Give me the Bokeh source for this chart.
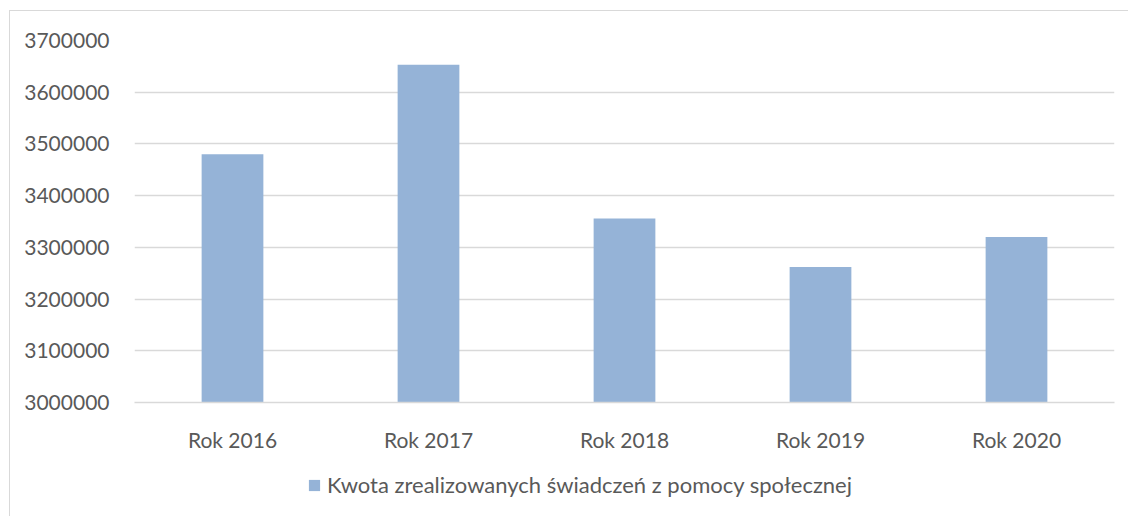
from bokeh.plotting import figure
from bokeh.layouts import column
from bokeh.models import ColumnDataSource, FixedTicker, NumeralTickFormatter, Legend, LegendItem, Range1d
from bokeh.embed import file_html
from bokeh.resources import INLINE

categories = ["Rok 2016", "Rok 2017", "Rok 2018", "Rok 2019", "Rok 2020"]
values = [3480000, 3653000, 3356000, 3262000, 3320000]
y_ticks = [3000000, 3100000, 3200000, 3300000, 3400000, 3500000, 3600000, 3700000]
series_name = "Kwota zrealizowanych świadczeń z pomocy społecznej"

TEXT = "#595959"
GRID = "#D9D9D9"
BAR = "#95B3D7"
FONT = "Lato"

source = ColumnDataSource(dict(cat=categories, val=values))

p = figure(x_range=categories, y_range=Range1d(3000000, 3700000),
           width=1118, height=449,
           min_border_left=124, min_border_right=14, min_border_top=29, min_border_bottom=58,
           output_backend="svg", toolbar_location=None)

p.vbar(x="cat", top="val", bottom=3000000, width=0.315, source=source,
       fill_color=BAR, line_color=None)

p.outline_line_color = None
p.background_fill_color = "white"
p.border_fill_color = "white"

p.yaxis.ticker = FixedTicker(ticks=y_ticks)
p.yaxis.formatter = NumeralTickFormatter(format="0")
p.yaxis.axis_line_color = None
p.yaxis.major_tick_line_color = None
p.yaxis.minor_tick_line_color = None
p.yaxis.major_label_standoff = 19
p.yaxis.major_label_text_font = FONT
p.yaxis.major_label_text_font_size = "21px"
p.yaxis.major_label_text_color = TEXT

p.xaxis.axis_line_color = GRID
p.xaxis.axis_line_width = 1.3
p.xaxis.major_tick_line_color = None
p.xaxis.minor_tick_line_color = None
p.xaxis.major_label_standoff = 18
p.xaxis.major_label_text_font = FONT
p.xaxis.major_label_text_font_size = "21px"
p.xaxis.major_label_text_color = TEXT

p.xgrid.grid_line_color = None
p.ygrid.grid_line_color = GRID
p.ygrid.grid_line_width = 1.3
p.ygrid.ticker = FixedTicker(ticks=y_ticks)

# legend strip below the chart
lp = figure(x_range=p.x_range, y_range=Range1d(0, 1), width=1118, height=56,
            min_border=0, x_axis_location=None, y_axis_location=None,
            output_backend="svg", toolbar_location=None)
lp.outline_line_color = None
lp.xgrid.grid_line_color = None
lp.ygrid.grid_line_color = None
lr = lp.vbar(x="cat", top="val", bottom=3000000, width=0.315, source=source,
             fill_color=BAR, line_color=None, visible=False)

legend = Legend(items=[LegendItem(label=series_name, renderers=[lr])],
                orientation="horizontal", location=(173, 18),
                label_text_font=FONT, label_text_font_size="22px", label_text_color=TEXT,
                glyph_width=14, glyph_height=14, label_standoff=6,
                border_line_color=None, background_fill_alpha=0,
                inactive_fill_alpha=0, margin=0, padding=0)
lp.add_layout(legend, "center")

layout = column(p, lp, spacing=0)
layout.styles = {"margin-left": "9px", "margin-top": "10px",
                 "border-left": "1px solid #D9D9D9", "border-top": "1px solid #D9D9D9"}

open("out.html", "w").write(file_html(layout, INLINE))
